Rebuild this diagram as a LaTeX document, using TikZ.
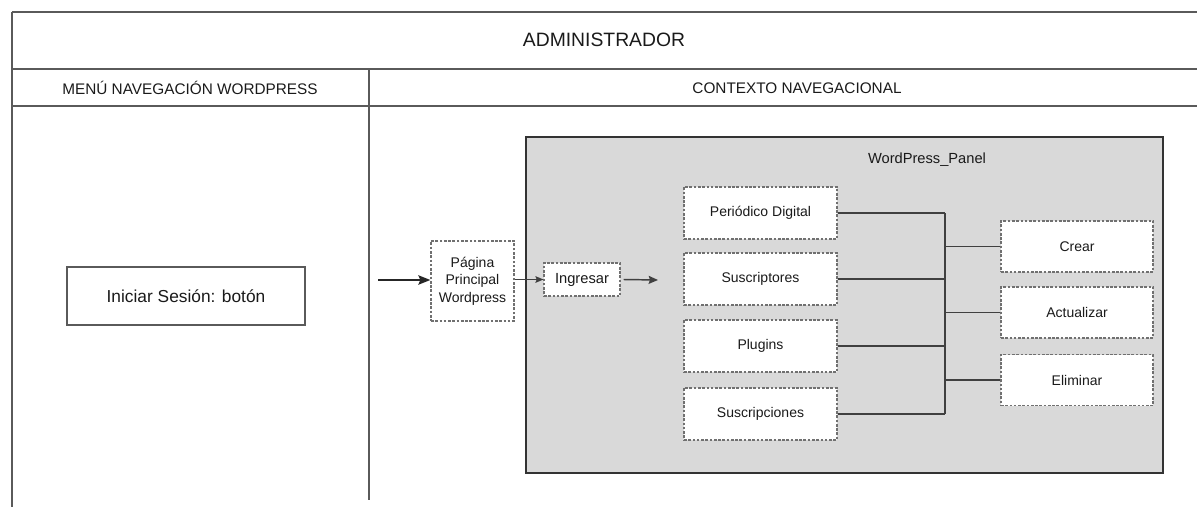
\documentclass[tikz,border=0pt]{standalone}
\usepackage{fontspec}
\setmainfont{Liberation Sans}
\usetikzlibrary{arrows.meta}
\definecolor{txt}{HTML}{1A1A1A}
\definecolor{lane}{HTML}{5A5A5A}
\definecolor{dash}{HTML}{707070}
\definecolor{panel}{HTML}{D9D9D9}
\tikzset{
  laneline/.style={draw=lane, line width=1.5pt},
  dbox/.style={draw=dash, fill=white, line width=0.9pt, dash pattern=on 2pt off 1.2pt,
    inner sep=0pt, align=center, font=\fontsize{10.5}{12.5}\selectfont, text=txt},
  solidbox/.style={draw=lane, fill=white, line width=1.1pt, inner sep=0pt,
    font=\fontsize{13}{15}\selectfont, text=txt},
  conn/.style={draw=black!75, line width=0.9pt},
  hdr/.style={font=\fontsize{11.5}{13}\selectfont, text=txt, inner sep=0pt},
}
\begin{document}
\begin{tikzpicture}[x=0.75pt, y=-0.75pt]
\useasboundingbox (0,0) rectangle (1197,507);
% table frame
\draw[laneline] (12,12) -- (1197,12);
\draw[laneline] (12,69) -- (1197,69);
\draw[laneline] (12,106) -- (1197,106);
\draw[laneline] (12,12) -- (12,507);
\draw[laneline] (369,69) -- (369,500);
\node[hdr, font=\fontsize{14.5}{16}\selectfont] (title) at (604,40) {ADMINISTRADOR};
\node[hdr] (menu) at (190,88) {MENÚ NAVEGACIÓN WORDPRESS};
\node[hdr] (ctx) at (797,88) {CONTEXTO NAVEGACIONAL};
% left lane
\node[solidbox, minimum width=178.5pt, minimum height=43.5pt] (login) at (186,296) {Iniciar Sesión: botón};
% panel
\node[draw=black!80, fill=panel, line width=1.1pt, minimum width=477.75pt, minimum height=252pt, inner sep=0pt] (panel) at (844.5,305) {};
\node[hdr, font=\fontsize{11}{13}\selectfont] (ptitle) at (927,160) {WordPress\_Panel};
% navigation
\node[dbox, minimum width=62.25pt, minimum height=60pt, font=\fontsize{10.5}{13}\selectfont] (pag) at (472.5,281) {Página\\Principal\\Wordpress};
\node[dbox, minimum width=57pt, minimum height=24.75pt, font=\fontsize{11}{13}\selectfont] (ing) at (582,279.5) {Ingresar};
\coordinate (start) at (378,280);
\coordinate (free) at (658,280);
\draw[draw=black!85, line width=1.6pt, -{Stealth[length=9pt, width=7pt, inset=1.5pt]}] (start) -- (pag.west |- start);
\draw[conn, -{Stealth[length=6pt, width=5pt, inset=1pt]}] (pag.east |- ing) -- (ing.west);
\draw[conn, line width=1.1pt, -{Stealth[length=7pt, width=6pt, inset=1pt]}] (ing.east) ++(3,0) -- (free);
% left boxes
\node[dbox, minimum width=114.75pt, minimum height=39pt] (per) at (760.5,213) {Periódico Digital};
\node[dbox, minimum width=114.75pt, minimum height=39pt] (sus) at (760.5,279) {Suscriptores};
\node[dbox, minimum width=114.75pt, minimum height=39pt] (plu) at (760.5,346) {Plugins};
\node[dbox, minimum width=114.75pt, minimum height=39pt] (scr) at (760.5,414) {Suscripciones};
% right boxes
\node[dbox, minimum width=114pt, minimum height=38.25pt] (cre) at (1077,246.5) {Crear};
\node[dbox, minimum width=114pt, minimum height=38.25pt] (act) at (1077,312.5) {Actualizar};
\node[dbox, minimum width=114pt, minimum height=38.25pt] (eli) at (1077,380) {Eliminar};
% bus
\coordinate (bt) at (945,213);
\coordinate (bb) at (945,414);
\draw[conn] (bt) -- (bb);
\foreach \n in {per,sus,plu,scr} \draw[conn] (\n.east) -- (\n.east -| bt);
\foreach \n in {cre,act,eli} \draw[conn] (\n.west -| bt) -- (\n.west);
\end{tikzpicture}
\end{document}
